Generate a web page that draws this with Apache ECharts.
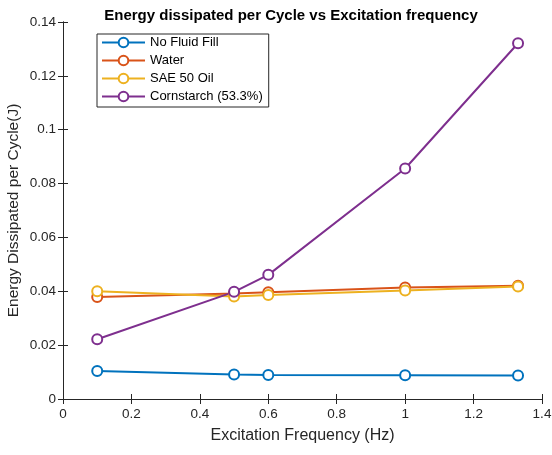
<!DOCTYPE html>
<html>
<head>
<meta charset="utf-8">
<script src="https://cdn.jsdelivr.net/npm/echarts@6/dist/echarts.min.js"></script>
<style>
  html, body { margin: 0; padding: 0; background: #fff; }
  #chart { width: 552px; height: 455px; }
</style>
</head>
<body>
<div id="chart"></div>
<script>
// excitation frequency (Hz)
const freq = [0.1, 0.5, 0.6, 1.0, 1.33];
const noFluid = [0.0104, 0.0091, 0.0089, 0.0088, 0.0087];
const water = [0.0379, 0.0392, 0.0396, 0.0414, 0.0421];
const saeOil = [0.0400, 0.0381, 0.0386, 0.0403, 0.0418];
const cornstarch = [0.0222, 0.0398, 0.0461, 0.0856, 0.1321];

const seriesNames = ['No Fluid Fill', 'Water', 'SAE 50 Oil', 'Cornstarch (53.3%)'];
const seriesData = [noFluid, water, saeOil, cornstarch];
const colors = ['#0072BD', '#D95319', '#EDB120', '#7E2F8E'];

const font = 'Liberation Sans, Arial, Helvetica, sans-serif';
const axisColor = '#262626';

const myChart = echarts.init(document.getElementById('chart'));

const baseAxis = {
  axisLine: { show: true, lineStyle: { color: axisColor, width: 1 } },
  axisTick: { show: true, inside: true, length: 5, lineStyle: { color: axisColor } },
  splitLine: { show: false }
};

const option = {
  animation: false,
  color: colors,
  title: {
    text: 'Energy dissipated per Cycle vs Excitation frequency',
    left: 286,
    textAlign: 'center',
    top: 3,
    textStyle: { fontFamily: font, fontSize: 15, fontWeight: 'bold', color: '#000' }
  },
  legend: {
    orient: 'vertical',
    left: 97,
    top: 34,
    itemWidth: 43,
    itemHeight: 12,
    itemGap: 5,
    padding: [2, 6, 4, 4],
    borderColor: axisColor,
    borderWidth: 1,
    backgroundColor: '#fff',
    textStyle: { fontFamily: font, fontSize: 13, color: '#000' },
    data: seriesNames
  },
  grid: { left: 63, right: 10, top: 22, bottom: 56, containLabel: false, outerBoundsMode: 'none' },
  xAxis: [
    Object.assign({}, baseAxis, {
      type: 'value',
      min: 0, max: 1.4, interval: 0.2,
      name: 'Excitation Frequency (Hz)',
      nameLocation: 'middle',
      nameGap: 29,
      nameMoveOverlap: false,
      nameTextStyle: { fontFamily: font, fontSize: 16, color: axisColor },
      axisLabel: {
        fontFamily: font, fontSize: 13.5, color: axisColor, margin: 8,
        formatter: v => String(+v.toFixed(1))
      }
    }),
    Object.assign({}, baseAxis, {
      type: 'value', position: 'top',
      min: 0, max: 1.4, interval: 0.2,
      axisLabel: { show: false }
    })
  ],
  yAxis: [
    Object.assign({}, baseAxis, {
      type: 'value',
      min: 0, max: 0.14, interval: 0.02,
      name: 'Energy Dissipated per Cycle(J)',
      nameLocation: 'middle',
      nameGap: 41,
      nameMoveOverlap: false,
      nameTextStyle: { fontFamily: font, fontSize: 15.5, color: axisColor },
      axisLabel: {
        fontFamily: font, fontSize: 13.5, color: axisColor, margin: 7,
        formatter: v => String(+v.toFixed(2))
      }
    }),
    Object.assign({}, baseAxis, {
      type: 'value', position: 'right',
      min: 0, max: 0.14, interval: 0.02,
      axisLabel: { show: false }
    })
  ],
  series: seriesNames.map((name, i) => ({
    name: name,
    type: 'line',
    data: freq.map((f, j) => [f, seriesData[i][j]]),
    symbol: 'emptyCircle',
    symbolSize: 10,
    lineStyle: { width: 2, color: colors[i] },
    itemStyle: { color: colors[i], borderColor: colors[i], borderWidth: 1.8 }
  }))
};

myChart.setOption(option);

window.addEventListener('resize', () => {
  myChart.resize();
});
</script>
</body>
</html>
